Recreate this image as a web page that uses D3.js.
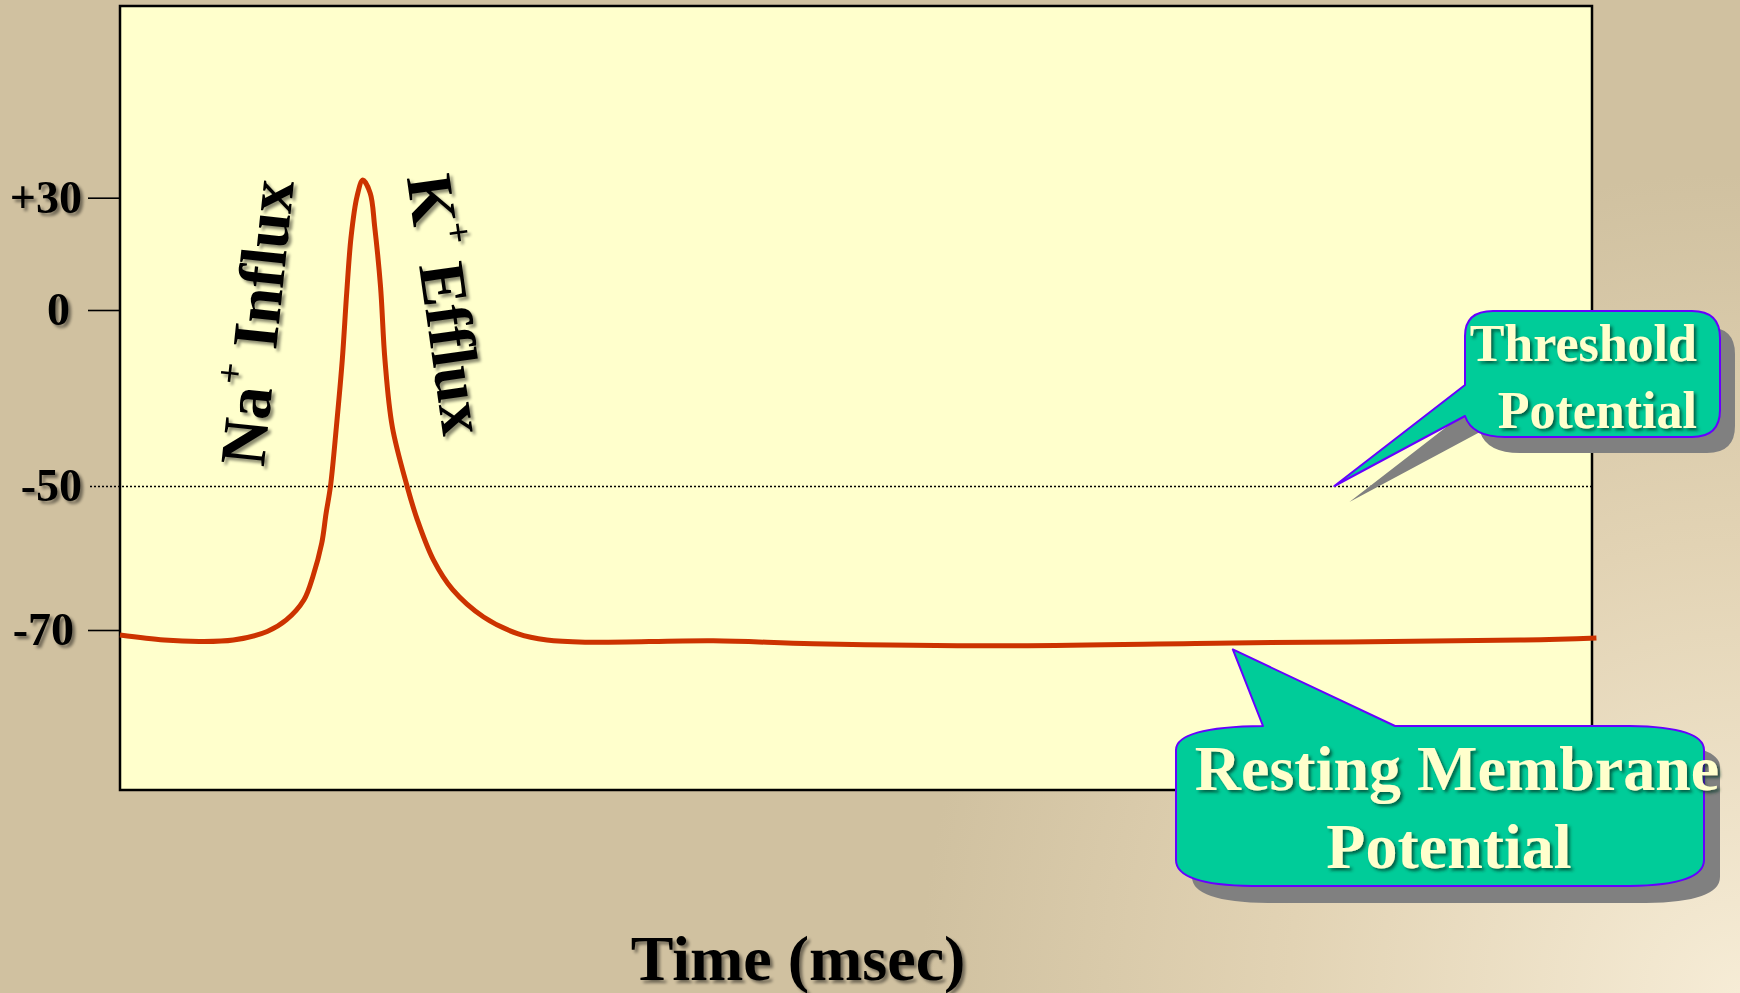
<!DOCTYPE html>
<html>
<head>
<meta charset="utf-8">
<script src="https://cdn.jsdelivr.net/npm/d3@7"></script>
<style>
  html, body { margin: 0; padding: 0; overflow: hidden; }
  svg { display: block; }
</style>
</head>
<body>
<div id="chart"></div>
<script>
// membrane potential trace
var timeMs = [0, 0.30, 0.54, 0.77, 1.00, 1.13, 1.25, 1.31, 1.37, 1.40, 1.43, 1.47, 1.51, 1.54, 1.57,
              1.61, 1.65, 1.70, 1.73, 1.77, 1.80, 1.85, 1.95, 2.02, 2.13, 2.26, 2.47, 2.70, 2.90,
              3.19, 4.03, 4.71, 5.98, 7.56, 9.51, 10.03];
var voltage = [-70.7, -71.4, -71.6, -71.4, -70.2, -68.6, -65.8, -62.6, -58.0, -53.8, -50, -33.2, -14.2, 4.5, 19.6,
               30.3, 34.7, 31.2, 22.3, 6.2, -14.2, -33.2, -50, -54.7, -60.3, -64.4, -68.2, -70.5, -71.4,
               -71.7, -71.5, -71.9, -72.2, -71.8, -71.4, -71.1];

var tickValues = [30, 0, -50, -70];
var tickLabels = ["+30", "0", "-50", "-70"];
var thresholdMv = -50;

var W = 1740, H = 993;
var margin = {top: 6, right: 148, bottom: 203, left: 120},
    width = W - margin.left - margin.right,
    height = H - margin.top - margin.bottom;

var svg = d3.select("#chart")
    .append("svg")
      .attr("width", W)
      .attr("height", H)
      .attr("font-family", "'Liberation Serif', 'Times New Roman', serif")
      .attr("font-weight", "bold");

var defs = svg.append("defs");

// slide background
var bg = defs.append("radialGradient")
    .attr("id", "bgGrad")
    .attr("gradientUnits", "userSpaceOnUse")
    .attr("cx", W).attr("cy", H).attr("r", 820);
bg.append("stop").attr("offset", "0").attr("stop-color", "#f6ecd6");
bg.append("stop").attr("offset", "0.55").attr("stop-color", "#e2d3b4");
bg.append("stop").attr("offset", "1").attr("stop-color", "#d0c1a0");

var sh = defs.append("filter").attr("id", "txtShadow")
    .attr("x", "-20%").attr("y", "-20%").attr("width", "140%").attr("height", "140%");
sh.append("feDropShadow").attr("dx", 3).attr("dy", 3).attr("stdDeviation", 1.6)
    .attr("flood-color", "#000").attr("flood-opacity", 0.45);

var sh2 = defs.append("filter").attr("id", "calloutShadow")
    .attr("x", "-20%").attr("y", "-20%").attr("width", "140%").attr("height", "140%");
sh2.append("feDropShadow").attr("dx", 2.5).attr("dy", 2.5).attr("stdDeviation", 1.5)
    .attr("flood-color", "#003322").attr("flood-opacity", 0.7);

svg.append("rect")
    .attr("width", W).attr("height", H)
    .attr("fill", "url(#bgGrad)");

var g = svg.append("g")
    .attr("transform", "translate(" + margin.left + "," + margin.top + ")");

// plot area
g.append("rect")
    .attr("width", width).attr("height", height)
    .attr("fill", "#ffffcc");

var x = d3.scaleLinear()
    .domain([0, 10])
    .range([0, width]);

// the drawing uses uneven spacing between the ticks
var y = d3.scaleLinear()
    .domain([-70, -50, 0, 30])
    .range([624, 480, 304, 191.7]);

// Y axis
var yAxis = g.append("g")
    .attr("class", "yaxis")
    .call(d3.axisLeft(y)
        .tickValues(tickValues)
        .tickSize(32)
        .tickPadding(6)
        .tickFormat(function(d, i) { return tickLabels[i]; }));

yAxis.select(".domain").remove();
yAxis.selectAll(".tick line")
    .attr("stroke", "#000")
    .attr("stroke-width", 1.6);
yAxis.selectAll(".tick text")
    .attr("fill", "#000")
    .attr("font-size", "46px")
    .attr("font-family", "'Liberation Serif', 'Times New Roman', serif")
    .attr("font-weight", "bold")
    .attr("filter", "url(#txtShadow)");

// a couple of labels sit a bit further left in the original
yAxis.selectAll(".tick text")
    .attr("dx", function(d) { return d === 0 ? -12 : (d === -70 ? -8 : 0); });

// threshold: dotted line across the plot
yAxis.selectAll(".tick")
    .filter(function(d) { return d === thresholdMv; })
    .select("line")
      .attr("x1", width)
      .attr("stroke-width", 1.6)
      .style("stroke-dasharray", "2, 2");

// frame
g.append("rect")
    .attr("width", width).attr("height", height)
    .attr("fill", "none")
    .attr("stroke", "#000")
    .attr("stroke-width", 2.5);

// action potential
var trace = timeMs.map(function(t, i) { return {t: t, v: voltage[i]}; });

g.append("path")
    .datum(trace)
    .attr("fill", "none")
    .attr("stroke", "#cc3300")
    .attr("stroke-width", 5)
    .attr("stroke-linejoin", "round")
    .attr("d", d3.line()
        .x(function(d) { return x(d.t); })
        .y(function(d) { return y(d.v); })
        .curve(d3.curveCatmullRom.alpha(0.5)));

// rotated ion labels
function ionLabel(cx, cy, angle, ion, rest) {
  var lg = g.append("g").attr("filter", "url(#txtShadow)");
  var t = lg.append("text")
      .attr("transform", "translate(" + cx + "," + cy + ") rotate(" + angle + ")")
      .attr("text-anchor", "middle")
      .attr("dominant-baseline", "central")
      .attr("font-size", "65px")
      .attr("fill", "#000");
  t.append("tspan").text(ion);
  t.append("tspan").attr("font-size", "38px").attr("dy", -22).text("+");
  t.append("tspan").attr("dy", 22).text(" " + rest);
}
ionLabel(x(0.93), y(-3.5), -84, "Na", "Influx");
ionLabel(x(2.22), y(1.5), 82, "K", "Efflux");

// x axis title
svg.append("text")
    .attr("x", 798)
    .attr("y", 980)
    .attr("text-anchor", "middle")
    .attr("font-size", "64px")
    .attr("fill", "#000")
    .attr("filter", "url(#txtShadow)")
    .text("Time (msec)");

// callouts
var calloutFill = "#00cc99", calloutStroke = "#6600ff", shadowFill = "#808080";

function drawCallout(boxPath, fullPath, off, withPointerShadow) {
  svg.append("path")
      .attr("d", withPointerShadow ? fullPath : boxPath)
      .attr("transform", "translate(" + off[0] + "," + off[1] + ")")
      .attr("fill", shadowFill);
  svg.append("path")
      .attr("d", fullPath)
      .attr("fill", calloutFill)
      .attr("stroke", calloutStroke)
      .attr("stroke-width", 2)
      .attr("stroke-linejoin", "round");
}

// threshold callout, tip on the dotted line
var thTip = [margin.left + x(8.25), margin.top + y(thresholdMv)];
var thPath = "M1465,336 Q1465,311 1493,311 L1692,311 Q1720,311 1720,338 L1720,410 Q1720,437 1692,437"
    + " L1505,437 Q1472,437 1465,416 L" + thTip[0] + "," + thTip[1] + " L1465,385 Z";
drawCallout(thPath, thPath, [15, 16], true);

var thText = svg.append("g").attr("filter", "url(#calloutShadow)");
thText.selectAll("text")
    .data(["Threshold", "Potential"])
    .enter()
    .append("text")
      .attr("x", 1697)
      .attr("y", function(d, i) { return 361 + i * 67; })
      .attr("text-anchor", "end")
      .attr("font-size", "52px")
      .attr("fill", "#ffffcc")
      .text(function(d) { return d; });

// resting potential callout, tip just under the trace
var rmTip = [margin.left + x(7.56), margin.top + y(-72.7)];
var rmBox = "M1176,750 Q1176,727 1263,726 L1630,726 Q1704,727 1704,750 L1704,860 Q1704,885 1630,886"
    + " L1252,886 Q1176,885 1176,860 Z";
var rmPath = "M1176,750 Q1176,727 1263,726 L" + rmTip[0] + "," + rmTip[1] + " L1395,726 L1630,726"
    + " Q1704,727 1704,750 L1704,860 Q1704,885 1630,886 L1252,886 Q1176,885 1176,860 Z";
drawCallout(rmBox, rmPath, [16, 17], false);

var rmText = svg.append("g").attr("filter", "url(#calloutShadow)");
rmText.selectAll("text")
    .data([{s: "Resting Membrane", x: 1457}, {s: "Potential", x: 1449}])
    .enter()
    .append("text")
      .attr("x", function(d) { return d.x; })
      .attr("y", function(d, i) { return 790 + i * 78; })
      .attr("text-anchor", "middle")
      .attr("font-size", "64px")
      .attr("fill", "#ffffcc")
      .text(function(d) { return d.s; });
</script>
</body>
</html>
